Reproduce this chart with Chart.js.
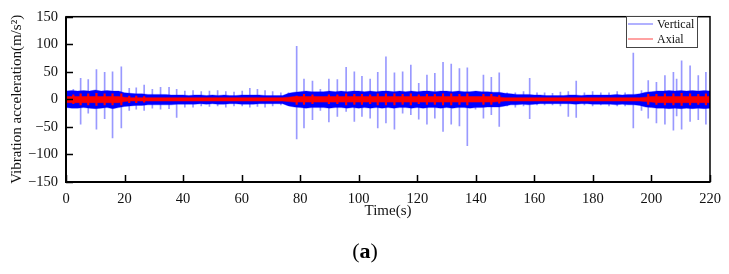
<!DOCTYPE html>
<html><head><meta charset="utf-8">
<script src="https://cdn.jsdelivr.net/npm/chart.js@4.4.0/dist/chart.umd.min.js"></script>
<style>html,body{margin:0;padding:0;background:#fff;}</style>
</head><body>
<canvas id="c" width="729" height="274"></canvas>
<script>
// ---- data ----
const xTicks = [0,20,40,60,80,100,120,140,160,180,200,220];
const yTicks = [-150,-100,-50,0,50,100,150];

// envelope sample times (s)
const bandT = [0,2,4,6,8,10,12,14,16,18,20,22,24,26,28,30,32,34,36,38,40,42,44,46,48,50,52,54,56,58,60,62,64,66,68,70,72,74,76,78,80,82,84,86,88,90,92,94,96,98,100,102,104,106,108,110,112,114,116,118,120,122,124,126,128,130,132,134,136,138,140,142,144,146,148,150,152,154,156,158,160,162,164,166,168,170,172,174,176,178,180,182,184,186,188,190,192,194,196,198,200,202,204,206,208,210,212,214,216,218,220];

// Vertical: dense band envelope (m/s^2)
const vUp = [15,16,15,16,15,17,15,16,15,15,12,11,10,10,9,9,9,9,8,8,8,7,8,8,7,8,7,8,7,7,8,8,8,8,7,7,7,7,11,13,14,15,14,14,14,15,14,15,14,15,15,14,15,14,15,15,14,15,14,15,14,15,15,14,15,15,14,15,14,14,15,14,14,13,13,11,10,9,9,9,8,8,7,7,7,7,8,8,7,8,8,8,8,8,9,8,9,9,10,13,14,15,15,16,15,16,15,16,15,16,15];
const vLo = [-15,-16,-16,-15,-16,-17,-16,-15,-17,-15,-13,-12,-11,-11,-10,-10,-10,-10,-10,-9,-9,-9,-9,-8,-9,-8,-9,-9,-8,-8,-9,-9,-9,-8,-8,-8,-8,-8,-12,-14,-15,-16,-15,-15,-15,-16,-15,-15,-16,-15,-16,-15,-16,-15,-16,-15,-16,-15,-15,-16,-15,-16,-15,-15,-16,-15,-16,-15,-15,-16,-15,-15,-14,-14,-14,-12,-10,-10,-9,-10,-9,-8,-8,-8,-8,-8,-8,-9,-8,-8,-9,-9,-9,-9,-10,-9,-10,-10,-11,-14,-15,-16,-16,-17,-16,-17,-16,-17,-16,-17,-16];

// Vertical: impact spikes (time, peak, trough)
const vSpikeT   = [2.5,5.0,7.6,10.4,13.2,15.9,18.9,21.6,24.0,26.7,29.5,32.3,35.2,37.8,40.6,43.4,46.2,49.0,51.8,54.6,57.4,60.2,62.8,65.4,68.0,70.6,73.4,76.0,78.8,81.3,84.2,86.9,89.8,92.7,95.7,98.5,101.1,103.9,106.5,109.3,112.2,115.0,117.8,120.5,123.3,126.0,128.8,131.6,134.4,137.1,139.9,142.6,145.3,148.0,150.7,153.5,156.3,158.4,160.9,163.5,166.2,168.9,171.6,174.3,177.1,179.9,182.7,185.5,188.3,191.0,193.8,196.6,198.9,201.7,204.6,207.5,208.6,210.3,213.2,216.0,218.6];
const vSpikeTop = [18,38,36,54,49,50,59,20,21,26,18,22,22,18,15,16,14,15,16,14,13,15,20,18,16,14,12,12,96,37,33,18,37,36,58,50,42,37,49,77,48,50,62,29,44,47,67,64,56,57,14,44,40,48,12,12,14,38,12,12,11,13,14,33,12,14,12,12,14,12,84,16,34,31,43,49,37,70,61,43,49];
const vSpikeBot = [-15,-45,-25,-54,-35,-70,-52,-20,-18,-20,-16,-18,-17,-33,-14,-14,-12,-13,-12,-14,-12,-12,-14,-13,-14,-12,-10,-10,-72,-52,-37,-20,-41,-31,-22,-40,-31,-34,-52,-43,-54,-25,-28,-36,-45,-34,-58,-45,-48,-84,-18,-34,-28,-49,-12,-14,-12,-35,-10,-10,-10,-12,-31,-33,-10,-12,-10,-12,-12,-12,-52,-20,-34,-43,-45,-56,-30,-54,-40,-37,-45];

// Axial: band envelope
const aUp = [5,5,5,5,5,5,5,5,5,5,4,3,3,3,3,3,3,3,3,3,3,3,3,3,3,3,3,3,3,3,3,3,3,3,3,3,3,3,4,5,5,5,5,5,5,5,5,5,5,5,5,5,5,5,5,5,5,5,5,5,5,5,5,5,5,5,5,5,5,5,5,5,5,5,4,3,3,3,3,3,3,3,3,3,3,3,3,3,3,3,3,3,3,3,3,3,3,3,3,4,5,5,5,5,5,5,5,5,5,5,5];
const aLo = [-6,-6,-6,-6,-6,-6,-6,-6,-6,-6,-4,-3,-3,-3,-3,-3,-3,-3,-3,-3,-3,-3,-3,-3,-3,-3,-3,-3,-3,-3,-3,-3,-3,-3,-3,-3,-3,-3,-4,-5,-5,-5,-5,-5,-5,-5,-5,-5,-5,-5,-5,-5,-5,-5,-5,-5,-5,-5,-5,-5,-5,-5,-5,-5,-5,-5,-5,-5,-5,-5,-5,-5,-5,-5,-4,-3,-3,-3,-3,-3,-3,-3,-3,-3,-3,-3,-3,-3,-3,-3,-3,-3,-3,-3,-3,-3,-3,-3,-3,-4,-5,-6,-6,-6,-6,-6,-6,-6,-6,-6,-6];

// Axial: impact spikes
const aSpikeT   = [2.5,5.0,7.6,10.4,13.2,15.9,18.9,21.6,24.0,26.7,78.8,81.3,84.2,89.8,92.7,95.7,98.5,101.1,103.9,106.5,109.3,112.2,115.0,117.8,120.5,123.3,126.0,128.8,131.6,134.4,137.1,142.6,145.3,148.0,198.9,201.7,204.6,207.5,210.3,213.2,216.0,218.6];
const aSpikeTop = [8,10,10,11,10,10,10,6,6,5,6,9,8,8,8,10,9,9,8,10,10,10,9,10,8,9,9,10,10,9,10,9,9,7,9,9,10,10,11,10,9,10];
const aSpikeBot = [-8,-10,-10,-11,-10,-10,-10,-6,-6,-5,-9,-9,-8,-8,-8,-10,-9,-9,-8,-10,-10,-10,-9,-10,-8,-9,-9,-10,-10,-9,-10,-9,-9,-7,-9,-9,-10,-10,-11,-10,-9,-10];

const legendItems = ['Vertical','Axial'];
const caption = ['(', 'a', ')'];
const xTitle = 'Time(s)';
const yTitle = 'Vibration acceleration(m/s\u00B2)';

// ---- styles ----
const SERIF = '"Liberation Serif","Times New Roman",serif';
const BLUE = '#0000ff', RED = '#ff0000';
const pts = (ys) => bandT.map((t,i) => ({x:t, y:ys[i]}));
const spikes = (T,top,bot) => T.map((t,i) => ({x:t, y:[bot[i], top[i]]}));

const decor = {
  id:'decor',
  afterDraw(chart){
    const {ctx, chartArea:a, scales:{x,y}} = chart;
    ctx.save();
    ctx.strokeStyle = '#000';
    // inward ticks
    ctx.lineWidth = 1.5;
    ctx.beginPath();
    yTicks.forEach(v => { const py = Math.round(y.getPixelForValue(v))+0.5; ctx.moveTo(a.left, py); ctx.lineTo(a.left+7, py); });
    xTicks.forEach(v => { const px = Math.round(x.getPixelForValue(v))+0.5; ctx.moveTo(px, a.bottom); ctx.lineTo(px, a.bottom-7); });
    ctx.stroke();
    // frame
    ctx.lineWidth = 1.5;
    ctx.strokeRect(a.left, a.top, a.right-a.left, a.bottom-a.top);
    ctx.lineWidth = 2;
    ctx.beginPath();
    ctx.moveTo(a.left, a.top); ctx.lineTo(a.left, a.bottom); ctx.lineTo(a.right, a.bottom);
    ctx.stroke();
    // legend
    const lx = 626, ly = 16, lw = 71, lh = 31;
    ctx.fillStyle = '#fff';
    ctx.fillRect(lx, ly, lw, lh);
    ctx.strokeStyle = '#444'; ctx.lineWidth = 1;
    ctx.strokeRect(lx+0.5, ly+0.5, lw, lh);
    const cols = ['rgba(70,70,255,0.7)','rgba(255,60,60,0.8)'];
    ctx.font = '12px ' + SERIF;
    ctx.textBaseline = 'middle'; ctx.textAlign = 'left';
    legendItems.forEach((s,i) => {
      const yy = ly + 8 + i*15;
      ctx.strokeStyle = cols[i]; ctx.lineWidth = 1.2;
      ctx.beginPath(); ctx.moveTo(lx+2, yy); ctx.lineTo(lx+27, yy); ctx.stroke();
      ctx.fillStyle = '#111';
      ctx.fillText(s, lx+31, yy+0.5);
    });
    // caption (a)
    ctx.textBaseline = 'alphabetic';
    const f1 = '22px ' + SERIF, f2 = 'bold 22px ' + SERIF;
    ctx.font = f1; const w1 = ctx.measureText(caption[0]).width, w3 = ctx.measureText(caption[2]).width;
    ctx.font = f2; const w2 = ctx.measureText(caption[1]).width;
    let cx = 365 - (w1+w2+w3)/2; const cy = 258;
    ctx.fillStyle = '#000';
    ctx.font = f1; ctx.fillText(caption[0], cx, cy); cx += w1;
    ctx.font = f2; ctx.fillText(caption[1], cx, cy); cx += w2;
    ctx.font = f1; ctx.fillText(caption[2], cx, cy);
    ctx.restore();
  }
};

new Chart(document.getElementById('c'), {
  type:'bar',
  data:{
    datasets:[
      {type:'bar', label:'vSpikes', data:spikes(vSpikeT,vSpikeTop,vSpikeBot), backgroundColor:'rgba(70,70,255,0.55)', barThickness:1, grouped:false, order:5},
      {type:'line', label:'vLo', data:pts(vLo), borderColor:'rgba(0,0,255,0.6)', borderWidth:0.5, pointRadius:0, fill:false, order:4},
      {type:'line', label:legendItems[0], data:pts(vUp), borderColor:'rgba(0,0,255,0.6)', borderWidth:0.5, pointRadius:0, backgroundColor:BLUE, fill:{target:1}, order:4},
      {type:'line', label:'aLo', data:pts(aLo), borderColor:RED, borderWidth:0.5, pointRadius:0, fill:false, order:2},
      {type:'line', label:legendItems[1], data:pts(aUp), borderColor:RED, borderWidth:0.5, pointRadius:0, backgroundColor:RED, fill:{target:3}, order:2},
      {type:'bar', label:'aSpikes', data:spikes(aSpikeT,aSpikeTop,aSpikeBot), backgroundColor:RED, barThickness:1.5, grouped:false, order:1}
    ]
  },
  options:{
    responsive:false, animation:false,
    layout:{padding:{top:13, right:19, left:0, bottom:0}},
    plugins:{legend:{display:false}, tooltip:{enabled:false}},
    scales:{
      x:{type:'linear', min:0, max:220, offset:false,
        grid:{display:false, drawTicks:false}, border:{display:false},
        afterBuildTicks:(s)=>{ s.ticks = xTicks.map(v=>({value:v})); },
        afterFit:(s)=>{ s.height = 92; },
        ticks:{padding:8, color:'#111', font:{family:SERIF, size:14.5}, maxRotation:0, autoSkip:false},
        title:{display:true, text:xTitle, color:'#111', font:{family:SERIF, size:15}, padding:{top:0, bottom:54}}
      },
      y:{min:-150, max:150,
        grid:{display:false, drawTicks:false}, border:{display:false},
        afterBuildTicks:(s)=>{ s.ticks = yTicks.map(v=>({value:v})); },
        afterFit:(s)=>{ s.width = 66; },
        ticks:{padding:8, color:'#111', font:{family:SERIF, size:14.5}, callback:(v)=>String(v).replace('-', '\u2212')},
        title:{display:true, text:yTitle, color:'#111', font:{family:SERIF, size:15}, padding:{top:8, bottom:0}}
      }
    }
  },
  plugins:[decor]
});
</script>
</body></html>
